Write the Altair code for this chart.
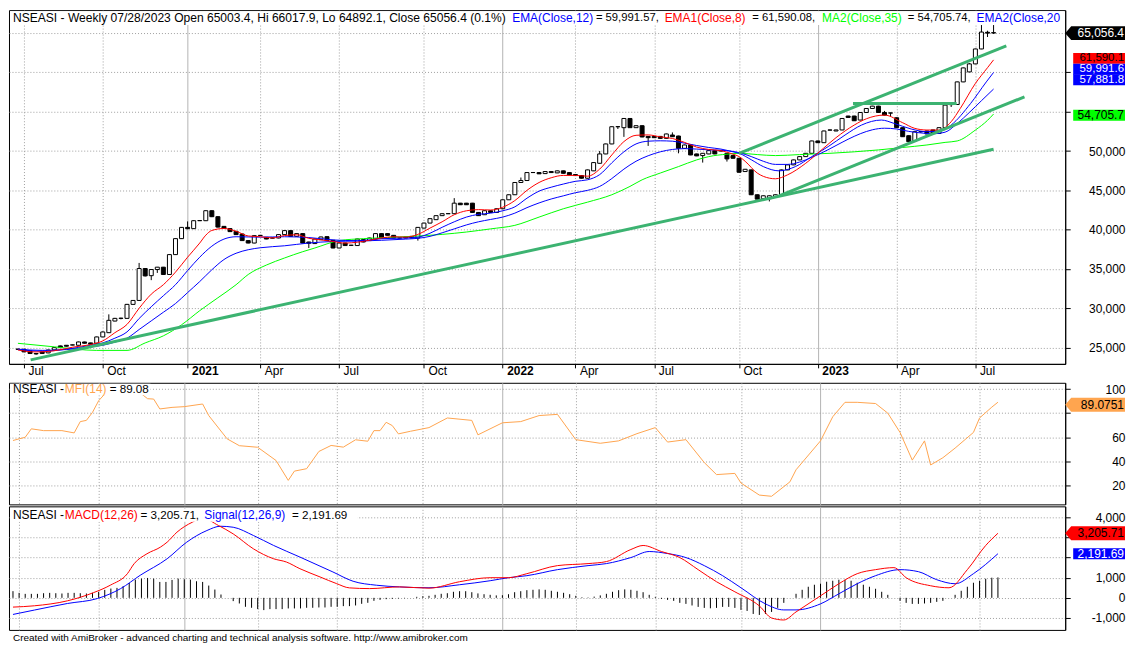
import altair as alt
import pandas as pd

FONT = "Liberation Sans"
START = pd.Timestamp("2020-06-26")
N = 162

OPEN = [24800,24800,24580,24250,24450,24330,24710,25215,25300,25330,25300,25720,25600,25560,26360,26900,28380,28720,28720,30500,
        31000,35060,34150,34930,35230,34300,36830,38860,40290,40130,41140,41140,42410,41650,40420,40130,39790,39450,38610,38300,
        39260,39030,38930,38940,39370,39880,39150,39500,38430,38230,38730,39110,38650,37670,38300,38010,37980,38730,38610,38810,
        39500,39500,39280,38940,39070,39150,38940,40200,40840,41270,41780,42030,42030,43370,43370,43370,42190,41900,42410,42190,
        42660,43800,44440,46000,46250,47260,47260,47130,47390,47220,47480,47260,47010,46880,46540,47480,48440,49630,50900,53090,
        52970,54140,52970,53220,51860,51860,51860,51610,52040,51910,50340,50770,49630,49420,49630,50050,50050,49710,49420,49080,
        47390,47600,44440,43930,43930,44100,44440,47600,48240,48870,49290,49710,51280,51060,52660,52550,52680,54450,54450,53940,
        54900,55410,55710,54900,54830,54230,52970,51950,51280,52460,52550,52680,52240,52970,55900,55920,58790,60060,61080,62980,
        65100,65003.4]
HIGH = [24850,24830,24600,24300,24480,24730,25050,25260,25330,25380,25760,25750,25620,26400,27050,29230,28780,28800,30560,31050,
        35770,35100,34970,35260,35260,36870,38900,40330,41050,41200,41200,42450,42450,41700,40450,40160,39820,39480,38640,39280,
        39320,39060,38980,39410,39920,39920,39540,39540,38460,38850,39110,39150,38690,38340,38340,38060,38850,38760,38980,39540,
        39540,39540,39310,38990,39100,39180,40330,40880,41440,41820,42070,42080,44010,43400,43400,43400,42220,42450,42440,42700,
        43840,44480,46040,46630,47300,47310,47290,47430,47420,47520,47510,47290,47040,46910,47640,48570,50000,50940,53130,53140,
        54180,54180,53260,53260,51890,51890,51890,52210,52370,51950,50810,50810,49660,49750,50090,50090,50090,49750,49450,49110,
        47720,47640,44470,44350,44350,44480,47640,48280,48910,49330,49750,51320,51310,52590,52720,52720,54180,54480,54480,54940,
        55450,55750,55750,55100,54870,54260,53000,51980,52500,52510,52580,52710,53010,55880,55960,58830,60610,61200,63020,66020,
        65300,66017.9]
LOW = [24750,24430,24200,24100,24230,24300,24680,24980,25150,25300,25280,25530,25400,25520,26330,26870,28350,28600,28700,30480,
       30980,34050,33580,34500,34250,34270,36800,38830,40050,40100,41100,41100,41600,40280,40130,39700,39330,38570,38270,38270,
       39220,38780,38900,38910,39340,39110,39120,38260,37670,38200,38700,38570,37630,37640,37950,37980,37950,38400,38580,38780,
       38900,39250,38900,38900,38900,38900,38610,40170,40810,41240,41750,41990,42000,43140,43140,42150,41740,41870,42160,42160,
       42630,43770,44410,45970,46220,47220,47070,47100,47230,47190,47140,46940,46850,46510,46510,47450,48400,49600,50870,52800,
       51800,52940,52940,51750,50650,51670,51580,51580,51790,49710,50310,49470,49350,48530,49600,49600,49960,48660,49050,47270,
       47360,44400,43850,43900,43590,44070,44400,47570,48210,48840,49260,49680,51030,51030,52620,52520,52650,54240,53820,53910,
       54870,55380,54870,54540,54450,52940,51790,51160,51250,52300,52140,52210,52210,52940,55600,55890,58760,60030,61050,62950,
       64500,64892.1]
CLOSE = [24790,24460,24250,24200,24260,24700,25000,25000,25180,25350,25720,25560,25430,26360,26990,28470,28720,28740,30500,31000,
         35060,34120,34930,35230,34300,36830,38860,40290,40130,41140,41160,42410,41650,40330,40170,39750,39370,38610,38300,39240,
         39280,38810,38940,39370,39880,39150,39500,38300,38270,38810,39070,38610,37670,38300,37980,38020,38810,38430,38940,39500,
         38940,39280,38940,38950,38940,38940,40290,40840,41400,41780,42030,42040,43370,43170,43170,42190,41780,42410,42190,42660,
         43800,44440,46000,46250,47260,47270,47100,47390,47260,47480,47170,46970,46880,46540,47600,48530,49630,50900,53090,53100,
         54140,52970,53220,51790,51700,51700,51610,52170,51820,50340,50770,49500,49380,49710,50050,49630,50000,49000,49080,47300,
         47680,44440,43880,44310,44310,44440,47600,48240,48870,49290,49710,51280,51060,52550,52680,52680,54140,54270,53850,54900,
         55410,55710,54900,54570,54840,52970,51820,51190,52460,52470,52170,52240,52970,55840,55920,58790,60570,61080,62980,65130,
         64990,65056.4]

EMA8_AT = [0,3,6,9,12,14,16,18,20,22,24,26,28,30,31,32,34,36,38,40,42,44,46,48,50,52,54,56,58,60,62,64,66,68,70,72,74,76,78,80,
           82,84,86,88,90,92,94,96,98,100,102,104,106,108,110,112,114,116,118,119,120,122,124,125,127,130,133,135,138,140,143,146,
           148,150,152,154,155.5,158,160,161]
EMA8 = [24700,24450,24600,25050,25400,25850,26900,27950,30000,31800,33000,34600,36500,38300,39300,39900,40150,39800,39200,39100,
        38950,39250,39350,38900,38700,38500,38300,38400,38650,38950,39100,39050,39400,40200,41000,41900,42400,42550,42500,42850,
        43700,45000,46000,46600,46900,46900,46800,47700,49500,51200,52000,52050,51800,51600,51100,50500,50200,50050,49600,49300,
        48700,47200,46550,46470,46970,48440,50400,51700,53300,54100,54570,53600,52880,52670,52670,53730,55410,58600,60600,61590.1]

EMA12_AT = [0,4,8,12,14,16,18,20,22,24,26,28,30,32,34,36,40,44,48,52,56,60,64,66,68,70,72,74,76,78,80,82,84,86,88,90,92,94,96,98,
            100,102,104,106,108,110,112,114,116,118,119,121,123,125.6,128.3,131,133.7,136.5,139.2,142.5,144.6,147.4,150,152.3,154,
            157.2,159.8,161]
EMA12 = [24750,24550,24800,25300,25600,26200,27000,28700,30200,31600,33000,34800,36500,37900,38800,39100,39050,39100,39000,38700,
         38600,38850,38950,39050,39550,40300,41000,41600,41950,42100,42400,42900,44000,44900,45400,45800,46150,46340,47000,48500,
         49900,50900,51250,51300,51250,51000,50700,50450,50250,49900,49710,48900,48020,47480,48020,49290,50560,52040,53300,53940,
         53510,52800,52460,52550,53310,56040,58790,59991.6]

EMA20_AT = [0,4,8,12,14,16,18,20,22,24,26,28,30,32,34,36,38,40,44,48,52,56,60,64,66,68,70,72,74,76,78,80,82,84,86,88,90,92,94,96,
            98,100,102,104,106,108,110,112,114,116,118,119,121,123,125,127,129,131,133,135,137,139,141,143,145,147,149,151,153,155,
            157,159,161]
EMA20 = [24800,24650,24750,25100,25300,25700,26200,27300,28400,29500,30600,32000,33400,34900,36200,37000,37450,37700,37950,38300,
         38500,38550,38650,38800,38900,39150,39600,40100,40600,41000,41300,41600,42100,42800,43400,43900,44300,44700,45000,45500,
         46500,47700,48700,49400,49900,50200,50300,50250,50150,50100,49950,49800,49300,48700,48300,48300,48600,49200,49900,50700,
         51500,52200,52700,52900,52800,52500,52300,52200,52400,53500,54900,56400,57881.8]

MA35_AT = [0,6,13,18,21,24,27,30,33,36,38,41,44,47,49,53,57,61,65,70,74,78,82,86,90,94,98,101,103,106,109,112,114,117,119,122,
           125,129,134,138,142,146,150,153,155,158,160,161]
MA35 = [25550,25100,24650,24650,25600,26500,27900,29700,31340,33000,34300,35500,36400,37200,37670,38610,38860,39000,39150,39400,
        39700,40100,40550,41600,42660,43500,44440,45500,46340,47200,48020,48870,49290,49600,49710,49550,49420,49550,49710,49900,
        50140,50450,50770,51100,51280,52670,53900,54705.7]

# trend lines: (bar index, price) pairs
TL_LONG = [(2.1, 23440), (161, 50220)]
TL_UPPER = [(119, 49710), (163.1, 63360)]
TL_MID = [(125.6, 44310), (166.1, 56890)]
TL_FLAT = [(137.8, 56040), (154.9, 56040)]

MFI_AT = [0,2,3,5,8,10,11,12,13,14,15,17,19,21,22,23,24,26,28,31,32,35,37,40,43,45,46,48,50,52,54,56,58,59,60,61,62,63,
          65,68,71,75,76,80,83,86,89,92,96,99,102,105,107,110,113,115,118,119,122,124,127,128,132,134,136,138,141,143,145,147,
          149,150,152,154,157,158,160,161]
MFI = [57.3,60,67,65.5,65.5,63.6,73,74,80.7,90.3,95.9,98,98,96,92,91.7,83.5,84.8,85.4,87.6,78,58.7,53,51.7,40.7,24.2,31.9,33.9,
       48.2,53.2,51.8,57.9,56.7,65.5,65.5,72.4,69.7,62.8,65,68,76,74,62,72,73,78,79,58,55,57,63,68,56,58,39,29,30,22,12,11,23,33,
       57,77,89,89,88,80,64,41,57,37,43,51,64,76,85,89.08]

MACD_AT = [0,3.5,8.9,13.2,15.9,18.7,19.8,21.9,24.1,25.2,26.8,29.3,31,33.6,36,39.3,42.6,44.7,46.9,50.2,52.9,55,58.3,63.2,68,73,78,
           81,84,89,94,97,101,103,106,109,112,115,118,122,124,126,128,132,135,138,141,144,146,150,153,156,159,161]
MACD = [-460,-395,-148,262,627,1200,1694,2188,2518,2765,3259,3753,3950,3590,3175,2435,1941,1778,1447,1037,706,494,459,543,480,800,
        1000,1000,1200,1600,1700,1800,2400,2600,2300,2000,1400,800,300,-400,-1000,-1100,-700,100,700,1200,1400,1500,1000,600,500,
        1400,2600,3205.71]
SIG_AT = [0,3.5,8.9,13.8,17.6,20.8,25.2,28.4,31.7,33.9,36,39.3,42.6,46.9,52.3,55.6,59.4,63.2,68,73,78,81,84,89,94,97,101,104,107,
          110,113,116,119,123,126,128,132,135,138,141,145,148,151,154,157,161]
SIG = [-825,-607,-281,-35,459,1121,1941,2765,3343,3555,3506,3096,2602,2025,1284,823,627,543,500,650,850,1000,1100,1400,1600,1700,
       2000,2300,2200,2000,1600,1100,500,-300,-600,-600,-300,200,700,1100,1400,1300,900,700,1200,2191.69]
HIST = [331,247,197,197,197,230,247,230,214,247,247,230,214,247,296,395,461,494,577,741,906,955,988,955,790,790,889,955,922,906,
        823,790,609,412,165,0,-163,-280,-445,-494,-560,-609,-560,-560,-560,-527,-527,-527,-494,-494,-478,-478,-445,-445,-412,-412,
        -379,-297,-247,-148,-99,-66,-49,-30,-20,0,50,80,100,150,200,230,300,330,330,280,220,180,150,120,130,180,280,330,380,400,
        420,400,350,300,250,180,100,30,20,60,120,200,300,380,420,400,350,280,150,50,-50,-100,-150,-250,-300,-380,-450,-500,-520,
        -500,-450,-450,-500,-600,-650,-800,-850,-800,-700,-500,-250,0,200,400,550,650,700,800,850,900,900,850,750,650,550,450,300,
        150,0,-150,-250,-300,-300,-280,-250,-200,-150,0,150,350,550,750,850,950,1000,1014]

TICKS = [(2020,7,3),(2020,10,2),(2021,1,8),(2021,4,2),(2021,7,2),(2021,10,8),(2022,1,7),(2022,4,1),(2022,7,1),(2022,10,7),
         (2023,1,6),(2023,4,7),(2023,7,7)]

PRICE_TICKS = [25000, 30000, 35000, 40000, 45000, 50000, 55000, 60000, 65000]
PRICE_HIDDEN = [55000, 60000, 65000]      # labels covered by the value boxes
MFI_TICKS = [20, 40, 60, 80, 100]
MFI_HIDDEN = [80]
MACD_TICKS = [-1000, 0, 1000, 2000, 3000, 4000]
MACD_HIDDEN = [2000, 3000]


def T(i):
    return (START + pd.Timedelta(days=7 * i)).strftime("%Y-%m-%dT%H:%M:%S")


XSCALE = alt.Scale(domain=[alt.DateTime(year=2020, month=6, date=21, hours=10, minutes=35),
                           alt.DateTime(year=2023, month=10, date=13)])
TICKVALS = [alt.DateTime(year=y, month=m, date=d) for y, m, d in TICKS]
ISYEAR = "month(datum.value) == 0"
GRID_DASH = {"condition": {"test": ISYEAR, "value": []}, "value": [1, 2]}
GRID_COLOR = {"condition": {"test": ISYEAR, "value": "#b4b4b4"}, "value": "#a0a0a0"}

X_PRICE_AXIS = alt.Axis(values=TICKVALS, title=None, orient="bottom",
                        labelExpr="month(datum.value) == 0 ? timeFormat(datum.value, '%Y') : timeFormat(datum.value, '%b')",
                        labelAlign="left", labelBaseline="middle", labelOffset=4, labelPadding=3, tickSize=4,
                        tickColor="black", domainColor="black", labelColor="black", labelFont=FONT, labelFontSize=12,
                        labelFontWeight={"condition": {"test": ISYEAR, "value": "bold"}, "value": "normal"},
                        grid=True, gridDash=GRID_DASH, gridColor=GRID_COLOR, labelOverlap=False,
                        minExtent=17, maxExtent=17)
X_GRID_AXIS = alt.Axis(values=TICKVALS, title=None, orient="bottom", labels=False, ticks=False, domain=False,
                       grid=True, gridDash=GRID_DASH, gridColor=GRID_COLOR, minExtent=0, maxExtent=0)

NUMFMT = "replace(format(datum.value, ','), '\u2212', '-')"


def y_axis(vals, hidden):
    expr = "indexof(%s, datum.value) >= 0 ? '' : %s" % (str(hidden), NUMFMT)
    return alt.Axis(values=vals, orient="right", title=None, labelExpr=expr, labelAlign="right",
                    labelBaseline="middle", labelPadding=55, tickSize=5, tickColor="black", domainColor="black",
                    labelColor="black", labelFont=FONT, labelFontSize=12, grid=True, gridDash=[1, 2],
                    gridColor="#a0a0a0", minExtent=60, maxExtent=60, labelOverlap=False)


PRICE_Y = alt.Scale(domain=[22935, 67917], nice=False, zero=False)
MFI_Y = alt.Scale(domain=[4.3, 105.2], nice=False, zero=False)
MACD_Y = alt.Scale(domain=[-1593, 4543], nice=False, zero=False)
PRICE_YAX = y_axis(PRICE_TICKS, PRICE_HIDDEN)
MFI_YAX = y_axis(MFI_TICKS, MFI_HIDDEN)
MACD_YAX = y_axis(MACD_TICKS, MACD_HIDDEN)

W = 1060
H_PRICE, H_MFI, H_MACD = 355, 122, 124


def series(at, vals):
    return pd.DataFrame({"date": [T(i) for i in at], "v": vals})


def line(df, color, yscale, yaxis, xaxis, width=1, clip=False, interp="monotone"):
    return alt.Chart(df).mark_line(color=color, strokeWidth=width, clip=clip, interpolate=interp).encode(
        x=alt.X("date:T", scale=XSCALE, axis=xaxis), y=alt.Y("v:Q", scale=yscale, axis=yaxis))


def txt(x, y, s, color, size=12, align="left", clip=False):
    return alt.Chart(pd.DataFrame({"t": [s]})).mark_text(
        align=align, baseline="middle", font=FONT, fontSize=size, color=color, clip=clip).encode(
        x=alt.value(x), y=alt.value(y), text="t:N")


def white_band(x0, x1, y0, y1):
    return alt.Chart(pd.DataFrame({"k": [0]})).mark_rect(color="white").encode(
        x=alt.value(x0), x2=alt.value(x1), y=alt.value(y0), y2=alt.value(y1))


ARROW = "M-1,0 L-0.8,-0.233 L1,-0.233 L1,0.233 L-0.8,0.233 Z"
PLAIN = "M-0.733,-0.183 L1,-0.183 L1,0.183 L-0.733,0.183 Z"


def vbox(value, label, fill, tcolor, shape, yscale, yaxis, yoff=0, fs=12):
    df = pd.DataFrame({"v": [value], "t": [label]})
    b = alt.Chart(df)
    box = b.mark_point(shape=shape, size=3600, filled=True, fill=fill, strokeWidth=0, opacity=1,
                       yOffset=yoff).encode(x=alt.value(W + 30), y=alt.Y("v:Q", scale=yscale, axis=yaxis))
    t = b.mark_text(align="right", baseline="middle", font=FONT, fontSize=fs, color=tcolor,
                    yOffset=yoff).encode(x=alt.value(W + 59), y=alt.Y("v:Q", scale=yscale, axis=yaxis), text="t:N")
    return box + t


# ---------------- price panel ----------------
bars = pd.DataFrame({"date": [T(i) for i in range(N)], "open": OPEN, "high": HIGH, "low": LOW, "close": CLOSE})
bars["fillc"] = ["white" if c >= o else "black" for o, c in zip(OPEN, CLOSE)]

wicks = alt.Chart(bars).mark_rule(color="black", strokeWidth=1).encode(
    x=alt.X("date:T", scale=XSCALE, axis=X_PRICE_AXIS),
    y=alt.Y("low:Q", scale=PRICE_Y, axis=PRICE_YAX),
    y2="high:Q")
bodies = alt.Chart(bars).mark_bar(width=4, stroke="black", strokeWidth=1).encode(
    x=alt.X("date:T", scale=XSCALE, axis=X_PRICE_AXIS),
    y=alt.Y("open:Q", scale=PRICE_Y, axis=PRICE_YAX), y2="close:Q",
    fill=alt.Fill("fillc:N", scale=None))


def pline(at, vals, color):
    return line(series(at, vals), color, PRICE_Y, PRICE_YAX, X_PRICE_AXIS)


def tl(pts):
    return line(pd.DataFrame({"date": [T(p[0]) for p in pts], "v": [p[1] for p in pts]}),
                "#3CB371", PRICE_Y, PRICE_YAX, X_PRICE_AXIS, width=3, clip=True, interp="linear")


price_layers = [wicks, bodies,
                pline(MA35_AT, MA35, "#00FF00"),
                pline(EMA20_AT, EMA20, "#0000FF"),
                pline(EMA12_AT, EMA12, "#0000FF"),
                pline(EMA8_AT, EMA8, "#FF0000"),
                tl(TL_LONG), tl(TL_UPPER), tl(TL_MID), tl(TL_FLAT)]

TITLE_Y = 8
NUMSZ = 11.3
price_layers += [
    white_band(1, W - 1, 1, 15),
    txt(4, TITLE_Y, "NSEASI - Weekly 07/28/2023 Open 65003.4, Hi 66017.9, Lo 64892.1, Close 65056.4 (0.1%)", "black",
        size=12.1),
    txt(505, TITLE_Y, "EMA(Close,12)", "#0000FF"),
    txt(589, TITLE_Y, "= 59,991.57,", "black", size=NUMSZ),
    txt(658, TITLE_Y, "EMA1(Close,8)", "#FF0000"),
    txt(746, TITLE_Y, "= 61,590.08,", "black", size=NUMSZ),
    txt(816, TITLE_Y, "MA2(Close,35)", "#00FF00"),
    txt(902, TITLE_Y, "= 54,705.74,", "black", size=NUMSZ),
    txt(971, TITLE_Y, "EMA2(Close,20", "#0000FF", clip=True),
]
price_layers += [
    vbox(65056.4, "65,056.4", "black", "white", ARROW, PRICE_Y, PRICE_YAX, 0.5),
    vbox(61590.1, "61,590.1", "#FF0000", "black", PLAIN, PRICE_Y, PRICE_YAX, -1.5, 11.5),
    vbox(59991.6, "59,991.6", "#0000FF", "white", PLAIN, PRICE_Y, PRICE_YAX, -3.2, 11.5),
    vbox(57881.8, "57,881.8", "#0000FF", "white", PLAIN, PRICE_Y, PRICE_YAX, -9.4, 11.5),
    vbox(54705.7, "54,705.7", "#00FF00", "black", PLAIN, PRICE_Y, PRICE_YAX, 1.2),
]
price = alt.layer(*price_layers).properties(width=W, height=H_PRICE)

# ---------------- MFI panel ----------------
mfi = alt.layer(
    line(series(MFI_AT, MFI), "#FFA54F", MFI_Y, MFI_YAX, X_GRID_AXIS, interp="linear"),
    white_band(1, 142, 1, 12.5),
    txt(4, 6.5, "NSEASI - ", "black"),
    txt(56, 6.5, "MFI(14)", "#FFA54F"),
    txt(101, 6.5, "= 89.08", "black", size=NUMSZ + 0.4),
    vbox(89.0751, "89.0751", "#FFA54F", "black", ARROW, MFI_Y, MFI_YAX, 2.5),
).properties(width=W, height=H_MFI)

# ---------------- MACD panel ----------------
hist_df = pd.DataFrame({"date": [T(i) for i in range(N)], "h": HIST, "z": [0] * N})
hist = alt.Chart(hist_df).mark_rule(color="black", strokeWidth=1).encode(
    x=alt.X("date:T", scale=XSCALE, axis=X_GRID_AXIS),
    y=alt.Y("z:Q", scale=MACD_Y, axis=MACD_YAX),
    y2="h:Q")
macd = alt.layer(
    hist,
    line(series(SIG_AT, SIG), "#0000FF", MACD_Y, MACD_YAX, X_GRID_AXIS),
    line(series(MACD_AT, MACD), "#FF0000", MACD_Y, MACD_YAX, X_GRID_AXIS),
    white_band(1, 350, 2.5, 15.5),
    txt(4, 9, "NSEASI - ", "black"),
    txt(56, 9, "MACD(12,26)", "#FF0000"),
    txt(132, 9, "= 3,205.71,", "black", size=NUMSZ + 0.4),
    txt(196, 9, "Signal(12,26,9)", "#0000FF"),
    txt(284, 9, "= 2,191.69", "black", size=NUMSZ + 0.4),
    vbox(3205.71, "3,205.71", "#FF0000", "black", ARROW, MACD_Y, MACD_YAX, 0),
    vbox(2191.69, "2,191.69", "#0000FF", "white", PLAIN, MACD_Y, MACD_YAX, 0),
    txt(4, 132, "Created with AmiBroker - advanced charting and technical analysis software. http://www.amibroker.com",
        "black", size=10),
).properties(width=W, height=H_MACD)

chart = alt.vconcat(price, mfi, macd, spacing=0).properties(padding=0, background="white").configure_view(
    stroke="black", strokeWidth=1).configure_concat(spacing=0)

chart.save("out.html", embed_options={"renderer": "svg", "actions": False})
